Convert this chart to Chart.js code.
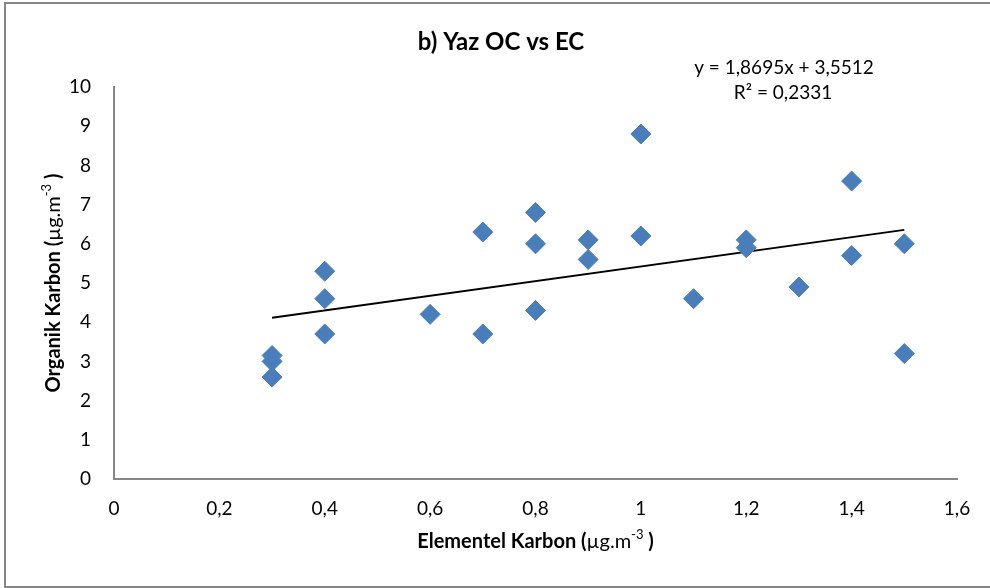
<!DOCTYPE html>
<html>
<head>
<meta charset="utf-8">
<script src="https://cdn.jsdelivr.net/npm/chart.js@4/dist/chart.umd.min.js"></script>
<style>
  html, body { margin: 0; padding: 0; background: #fff; }
  #wrap { width: 990px; height: 588px; }
</style>
</head>
<body>
<div id="wrap"><canvas id="chart"></canvas></div>
<script>
// Chart data
const ecValues = [0.3, 0.3, 0.3, 0.4, 0.4, 0.4, 0.6, 0.7, 0.7, 0.8, 0.8, 0.8,
  0.9, 0.9, 1.0, 1.0, 1.1, 1.2, 1.2, 1.3, 1.4, 1.4, 1.5, 1.5];
const ocValues = [3.15, 3.0, 2.6, 5.3, 4.6, 3.7, 4.2, 6.3, 3.7, 6.8, 6.0, 4.3,
  6.1, 5.6, 8.8, 6.2, 4.6, 6.1, 5.9, 4.9, 7.6, 5.7, 6.0, 3.2];

// trendline from the equation shown on the chart
const slope = 1.8695;
const intercept = 3.5512;
const trendText = ['y = 1,8695x + 3,5512', 'R² = 0,2331'];

const chartTitle = 'b) Yaz OC vs EC';
const xTitle = ['Elementel Karbon (', 'µg.m', '-3', ' )'];
const yTitle = ['Organik Karbon (', 'µg.m', '-3', ' )'];

const FONT = 'Lato, "Open Sans", sans-serif';

const points = ecValues.map((x, i) => ({ x: x, y: ocValues[i] }));
const xMin = Math.min(...ecValues);
const xMax = Math.max(...ecValues);
const trend = [xMin, xMax].map(x => ({ x: x, y: slope * x + intercept }));

// draws title, equation, axis titles and the outer frame
const textPlugin = {
  id: 'texts',
  beforeDraw(chart) {
    const ctx = chart.ctx;
    ctx.save();
    ctx.strokeStyle = '#868686';
    ctx.lineWidth = 2;
    ctx.strokeRect(5, 3, 1000, 584);
    ctx.restore();
  },
  afterDraw(chart) {
    const ctx = chart.ctx;
    const area = chart.chartArea;
    ctx.save();
    ctx.fillStyle = '#000';
    ctx.textBaseline = 'middle';
    ctx.textAlign = 'center';

    ctx.font = 'bold 24px ' + FONT;
    ctx.fillText(chartTitle, 501, 42);

    ctx.font = '19px ' + FONT;
    ctx.fillText(trendText[0], 784, 68);
    ctx.fillText(trendText[1], 783, 93);

    // axis title with bold / normal parts and a superscript
    function mixed(parts, cx, cy) {
      const fonts = ['bold 20px ' + FONT, '20px ' + FONT, '13px ' + FONT, 'bold 20px ' + FONT];
      const offs = [0, 0, -7, 0];
      let total = 0;
      const widths = parts.map((p, i) => { ctx.font = fonts[i]; const w = ctx.measureText(p).width; total += w; return w; });
      let x = cx - total / 2;
      ctx.textAlign = 'left';
      parts.forEach((p, i) => {
        ctx.font = fonts[i];
        ctx.fillText(p, x, cy + offs[i]);
        x += widths[i];
      });
    }
    mixed(xTitle, (area.left + area.right) / 2, 542);

    ctx.translate(54, (area.top + area.bottom) / 2);
    ctx.rotate(-Math.PI / 2);
    mixed(yTitle, 0, 0);
    ctx.restore();
  }
};

const data = {
  datasets: [{
    type: 'scatter',
    label: 'OC',
    data: points,
    pointStyle: 'rectRot',
    radius: 10,
    hoverRadius: 10,
    backgroundColor: '#4A7EBB',
    borderColor: '#4A7EBB',
    borderWidth: 1
  }, {
    type: 'line',
    label: 'Trend',
    data: trend,
    borderColor: '#000',
    borderWidth: 2,
    pointRadius: 0,
    fill: false
  }]
};

const options = {
  responsive: true,
  maintainAspectRatio: false,
  animation: false,
  layout: {
    autoPadding: false,
    padding: { left: 0, top: 87, right: 33, bottom: 0 }
  },
  plugins: {
    legend: { display: false },
    tooltip: { enabled: false },
    title: { display: false }
  },
  scales: {
    x: {
      type: 'linear',
      min: 0,
      max: 1.6,
      grid: { display: false },
      border: { color: '#868686', width: 2 },
      ticks: {
        stepSize: 0.2,
        color: '#000',
        padding: 10,
        maxRotation: 0,
        font: { family: FONT, size: 19 },
        callback: v => String(Math.round(v * 10) / 10).replace('.', ',')
      },
      afterFit: s => { s.height = 109; }
    },
    y: {
      min: 0,
      max: 10,
      grid: { display: false },
      border: { color: '#868686', width: 2 },
      ticks: {
        stepSize: 1,
        color: '#000',
        padding: 15,
        font: { family: FONT, size: 19 }
      },
      afterFit: s => { s.width = 114; }
    }
  }
};

new Chart(document.getElementById('chart'), {
  type: 'scatter',
  data: data,
  options: options,
  plugins: [textPlugin]
});
</script>
</body>
</html>
